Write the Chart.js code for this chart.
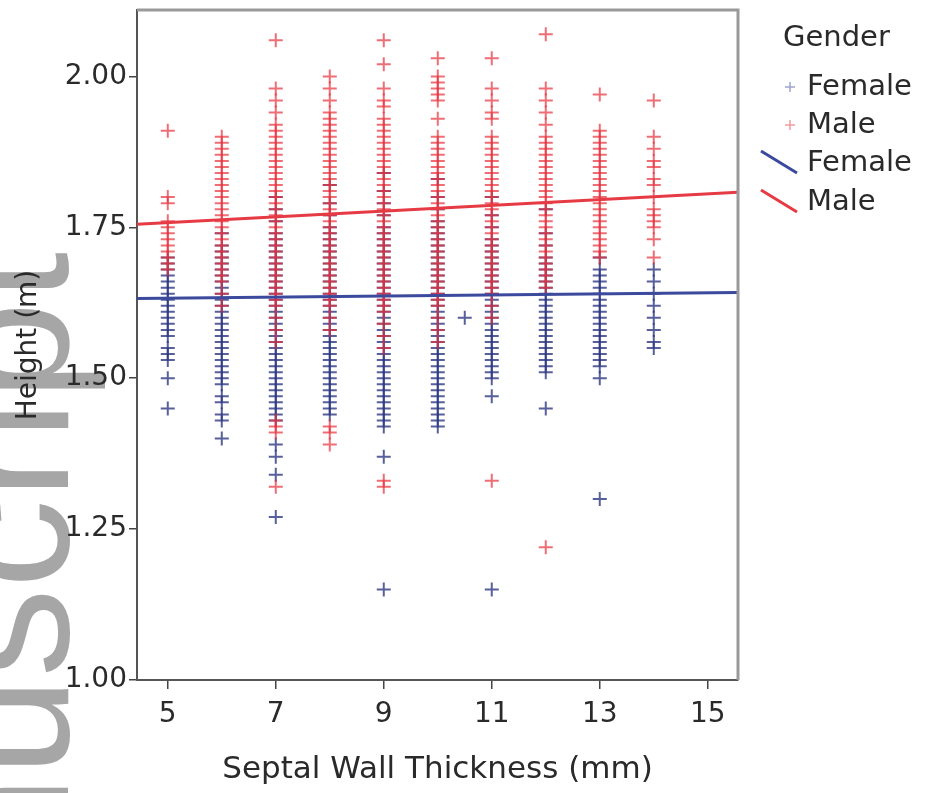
<!DOCTYPE html>
<html>
<head>
<meta charset="utf-8">
<script src="https://cdn.jsdelivr.net/npm/chart.js@4.4.1/dist/chart.umd.min.js"></script>
<style>
  html, body { margin: 0; padding: 0; background: #fff; }
  #wrap { width: 931px; height: 793px; }
</style>
</head>
<body>
<div id="wrap"><canvas id="chart" width="931" height="793"></canvas></div>
<script>
// Heights (m) per septal wall thickness (mm)
const female5 = [1.70, 1.69, 1.68, 1.67, 1.66, 1.65, 1.64, 1.63, 1.62, 1.61, 1.60, 1.59, 1.58, 1.57, 1.55, 1.54, 1.53, 1.50, 1.45];
const male5 = [1.91, 1.80, 1.79, 1.76, 1.75, 1.74, 1.73, 1.72, 1.71, 1.70, 1.69, 1.68];
const female6 = [1.74, 1.72, 1.71, 1.70, 1.69, 1.68, 1.67, 1.66, 1.65, 1.64, 1.63, 1.62, 1.61, 1.60, 1.59, 1.58, 1.57, 1.56, 1.55, 1.54, 1.53, 1.52, 1.51, 1.50, 1.49, 1.47, 1.46, 1.44, 1.43, 1.40];
const male6 = [1.90, 1.89, 1.88, 1.87, 1.86, 1.85, 1.84, 1.83, 1.82, 1.81, 1.80, 1.79, 1.78, 1.77, 1.76, 1.75, 1.74, 1.73, 1.72, 1.71, 1.70, 1.69, 1.68, 1.67, 1.66, 1.64, 1.62];
const female7 = [1.80, 1.78, 1.76, 1.74, 1.73, 1.72, 1.71, 1.70, 1.69, 1.68, 1.67, 1.66, 1.65, 1.64, 1.63, 1.62, 1.61, 1.60, 1.59, 1.58, 1.57, 1.56, 1.55, 1.54, 1.53, 1.52, 1.51, 1.50, 1.49, 1.48, 1.47, 1.46, 1.45, 1.44, 1.43, 1.39, 1.37, 1.34, 1.27];
const male7 = [2.06, 1.98, 1.96, 1.94, 1.92, 1.91, 1.90, 1.89, 1.88, 1.87, 1.86, 1.85, 1.84, 1.83, 1.82, 1.81, 1.80, 1.79, 1.78, 1.77, 1.76, 1.75, 1.74, 1.73, 1.72, 1.71, 1.70, 1.69, 1.68, 1.67, 1.66, 1.65, 1.64, 1.63, 1.62, 1.60, 1.58, 1.56, 1.43, 1.42, 1.41, 1.32];
const female8 = [1.82, 1.79, 1.77, 1.75, 1.74, 1.73, 1.72, 1.71, 1.70, 1.69, 1.68, 1.67, 1.66, 1.65, 1.64, 1.63, 1.62, 1.61, 1.60, 1.59, 1.58, 1.57, 1.56, 1.55, 1.54, 1.53, 1.52, 1.51, 1.50, 1.49, 1.48, 1.47, 1.46, 1.45, 1.44];
const male8 = [2.00, 1.98, 1.96, 1.94, 1.93, 1.92, 1.91, 1.90, 1.89, 1.88, 1.87, 1.86, 1.85, 1.84, 1.83, 1.82, 1.81, 1.80, 1.79, 1.78, 1.77, 1.76, 1.75, 1.74, 1.73, 1.72, 1.71, 1.70, 1.69, 1.68, 1.67, 1.66, 1.65, 1.64, 1.63, 1.62, 1.60, 1.58, 1.42, 1.41, 1.39];
const female9 = [1.84, 1.81, 1.79, 1.77, 1.75, 1.74, 1.73, 1.72, 1.71, 1.70, 1.69, 1.68, 1.67, 1.66, 1.65, 1.64, 1.63, 1.62, 1.61, 1.60, 1.59, 1.58, 1.57, 1.56, 1.55, 1.54, 1.53, 1.52, 1.51, 1.50, 1.49, 1.48, 1.47, 1.46, 1.45, 1.44, 1.43, 1.42, 1.37, 1.15];
const male9 = [2.06, 2.02, 1.98, 1.96, 1.95, 1.93, 1.92, 1.91, 1.90, 1.89, 1.88, 1.87, 1.86, 1.85, 1.84, 1.83, 1.82, 1.81, 1.80, 1.79, 1.78, 1.77, 1.76, 1.75, 1.74, 1.73, 1.72, 1.71, 1.70, 1.69, 1.68, 1.67, 1.66, 1.65, 1.64, 1.63, 1.62, 1.61, 1.59, 1.57, 1.55, 1.33, 1.32];
const female10 = [1.83, 1.80, 1.78, 1.76, 1.75, 1.74, 1.73, 1.72, 1.71, 1.70, 1.69, 1.68, 1.67, 1.66, 1.65, 1.64, 1.63, 1.62, 1.61, 1.60, 1.59, 1.58, 1.57, 1.56, 1.55, 1.54, 1.53, 1.52, 1.51, 1.50, 1.49, 1.48, 1.47, 1.46, 1.45, 1.44, 1.43, 1.42];
const male10 = [2.03, 2.00, 1.99, 1.98, 1.97, 1.96, 1.93, 1.90, 1.89, 1.88, 1.87, 1.86, 1.85, 1.84, 1.83, 1.82, 1.81, 1.80, 1.79, 1.78, 1.77, 1.76, 1.75, 1.74, 1.73, 1.72, 1.71, 1.70, 1.69, 1.68, 1.67, 1.66, 1.65, 1.64, 1.63, 1.62, 1.60, 1.58, 1.56];
const female10_5 = [1.60];
const female11 = [1.80, 1.77, 1.75, 1.73, 1.72, 1.71, 1.70, 1.69, 1.68, 1.67, 1.66, 1.65, 1.64, 1.63, 1.62, 1.61, 1.60, 1.59, 1.58, 1.57, 1.56, 1.55, 1.54, 1.53, 1.52, 1.51, 1.50, 1.47, 1.15];
const male11 = [2.03, 1.98, 1.96, 1.94, 1.93, 1.90, 1.89, 1.88, 1.87, 1.86, 1.85, 1.84, 1.83, 1.82, 1.81, 1.80, 1.79, 1.78, 1.77, 1.76, 1.75, 1.74, 1.73, 1.72, 1.71, 1.70, 1.69, 1.68, 1.67, 1.66, 1.65, 1.64, 1.62, 1.60, 1.33];
const female12 = [1.78, 1.74, 1.72, 1.70, 1.69, 1.68, 1.67, 1.66, 1.65, 1.64, 1.63, 1.62, 1.61, 1.60, 1.59, 1.58, 1.57, 1.56, 1.55, 1.54, 1.53, 1.52, 1.51, 1.45];
const male12 = [2.07, 1.98, 1.96, 1.94, 1.92, 1.90, 1.89, 1.88, 1.87, 1.86, 1.85, 1.84, 1.83, 1.82, 1.81, 1.80, 1.79, 1.78, 1.77, 1.76, 1.75, 1.74, 1.73, 1.72, 1.71, 1.70, 1.69, 1.68, 1.67, 1.66, 1.65, 1.22];
const female13 = [1.70, 1.68, 1.67, 1.66, 1.65, 1.64, 1.63, 1.62, 1.61, 1.60, 1.59, 1.58, 1.57, 1.56, 1.55, 1.54, 1.53, 1.52, 1.50, 1.30];
const male13 = [1.97, 1.91, 1.90, 1.89, 1.88, 1.87, 1.86, 1.85, 1.84, 1.83, 1.82, 1.81, 1.80, 1.79, 1.78, 1.77, 1.76, 1.75, 1.74, 1.73, 1.72, 1.71, 1.70];
const female14 = [1.68, 1.66, 1.64, 1.62, 1.60, 1.58, 1.56, 1.55];
const male14 = [1.96, 1.90, 1.88, 1.86, 1.85, 1.83, 1.82, 1.80, 1.78, 1.77, 1.76, 1.75, 1.73, 1.70];

// Fit lines (ends at the axis limits)
const fitX = [4.43, 15.56];
const femaleFit = [1.632, 1.642];
const maleFit = [1.755, 1.808];

// Axis ticks
const xTicks = [5, 7, 9, 11, 13, 15];
const yTicks = [1.00, 1.25, 1.50, 1.75, 2.00];

const femaleCols = [[5, female5], [6, female6], [7, female7], [8, female8], [9, female9], [10, female10], [10.5, female10_5], [11, female11], [12, female12], [13, female13], [14, female14]];
const maleCols = [[5, male5], [6, male6], [7, male7], [8, male8], [9, male9], [10, male10], [11, male11], [12, male12], [13, male13], [14, male14]];

const FEMALE = '#3b4a9c';
const MALE = '#e63a44';
const FONT = "'DejaVu Sans', sans-serif";

function toPoints(cols) {
    const pts = [];
    cols.forEach(([x, hs]) => hs.forEach(h => pts.push({ x: x, y: h })));
    return pts;
}

function fitPoints(ys) {
    return fitX.map((x, i) => ({ x: x, y: ys[i] }));
}

// Watermark behind everything
const watermark = {
    id: 'watermark',
    beforeDraw(chart) {
        const ctx = chart.ctx;
        ctx.save();
        ctx.translate(68, 252);
        ctx.rotate(-Math.PI / 2);
        ctx.fillStyle = '#a6a6a6';
        ctx.font = "178px 'Liberation Sans', sans-serif";
        ctx.textAlign = 'right';
        ctx.textBaseline = 'alphabetic';
        ctx.fillText('Manuscript', 0, 0);
        ctx.restore();
    }
};

// Frame on top/right plus custom legend
const extras = {
    id: 'extras',
    afterDraw(chart) {
        const ctx = chart.ctx;
        const a = chart.chartArea;
        ctx.save();
        ctx.strokeStyle = '#9a9a9a';
        ctx.lineWidth = 3;
        ctx.beginPath();
        ctx.moveTo(a.left, a.top);
        ctx.lineTo(a.right, a.top);
        ctx.lineTo(a.right, a.bottom);
        ctx.stroke();

        ctx.fillStyle = '#2a2a2a';
        ctx.font = '29px ' + FONT;
        ctx.textBaseline = 'middle';
        ctx.textAlign = 'left';
        ctx.fillText('Gender', 783, 38);

        const rows = [
            { y: 87, label: 'Female', color: FEMALE, kind: 'cross' },
            { y: 125, label: 'Male', color: MALE, kind: 'cross' },
            { y: 163, label: 'Female', color: FEMALE, kind: 'line' },
            { y: 202, label: 'Male', color: MALE, kind: 'line' }
        ];
        rows.forEach(r => {
            ctx.strokeStyle = r.color;
            if (r.kind === 'cross') {
                ctx.globalAlpha = 0.5;
                ctx.lineWidth = 1.5;
                ctx.beginPath();
                ctx.moveTo(785, r.y); ctx.lineTo(795, r.y);
                ctx.moveTo(790, r.y - 5); ctx.lineTo(790, r.y + 5);
                ctx.stroke();
                ctx.globalAlpha = 1;
            } else {
                ctx.lineWidth = 3;
                ctx.beginPath();
                ctx.moveTo(761, r.y - 12); ctx.lineTo(797, r.y + 10);
                ctx.stroke();
            }
            ctx.fillText(r.label, 807, r.y);
        });
        ctx.restore();
    }
};

new Chart(document.getElementById('chart'), {
    type: 'scatter',
    data: {
        datasets: [
            {
                label: 'Female fit', type: 'line', data: fitPoints(femaleFit),
                borderColor: FEMALE, borderWidth: 3, pointRadius: 0, fill: false, order: 0
            },
            {
                label: 'Male fit', type: 'line', data: fitPoints(maleFit),
                borderColor: MALE, borderWidth: 3, pointRadius: 0, fill: false, order: 0
            },
            {
                label: 'Male', data: toPoints(maleCols), order: 1,
                pointStyle: 'cross', pointRadius: 7, borderWidth: 2,
                borderColor: 'rgba(232, 48, 60, 0.7)', backgroundColor: 'rgba(232, 48, 60, 0.7)'
            },
            {
                label: 'Female', data: toPoints(femaleCols), order: 2,
                pointStyle: 'cross', pointRadius: 7, borderWidth: 2,
                borderColor: 'rgba(45, 56, 130, 0.8)', backgroundColor: 'rgba(45, 56, 130, 0.8)'
            }
        ]
    },
    options: {
        responsive: false,
        animation: false,
        events: [],
        layout: { padding: { left: 0, top: 10, right: 193, bottom: 0 } },
        plugins: {
            legend: { display: false },
            tooltip: { enabled: false }
        },
        scales: {
            x: {
                type: 'linear',
                min: 4.43,
                max: 15.56,
                afterFit(scale) { scale.height = 113; scale.paddingLeft = 0; scale.paddingRight = 0; },
                afterBuildTicks(scale) { scale.ticks = xTicks.map(v => ({ value: v })); },
                grid: { drawOnChartArea: false, drawTicks: true, tickLength: 9, color: '#444', lineWidth: 1.5 },
                border: { display: true, color: '#555', width: 2 },
                ticks: { color: '#2a2a2a', padding: 9, font: { family: FONT, size: 28 }, callback: v => String(v) },
                title: { display: true, text: 'Septal Wall Thickness (mm)', color: '#2a2a2a', font: { family: FONT, size: 31 }, padding: { top: 4, bottom: 4 } }
            },
            y: {
                type: 'linear',
                min: 1.00,
                max: 2.11,
                afterFit(scale) { scale.width = 137; scale.paddingTop = 0; scale.paddingBottom = 0; },
                afterBuildTicks(scale) { scale.ticks = yTicks.map(v => ({ value: v })); },
                grid: { drawOnChartArea: false, drawTicks: true, tickLength: 8, color: '#444', lineWidth: 1.5 },
                border: { display: true, color: '#555', width: 2 },
                ticks: { color: '#2a2a2a', padding: 2, font: { family: FONT, size: 28 }, callback: v => v.toFixed(2) },
                title: { display: true, text: 'Height (m)', color: '#2a2a2a', font: { family: FONT, size: 28 }, padding: { top: 12, bottom: 0 } }
            }
        }
    },
    plugins: [watermark, extras]
});
</script>
</body>
</html>
